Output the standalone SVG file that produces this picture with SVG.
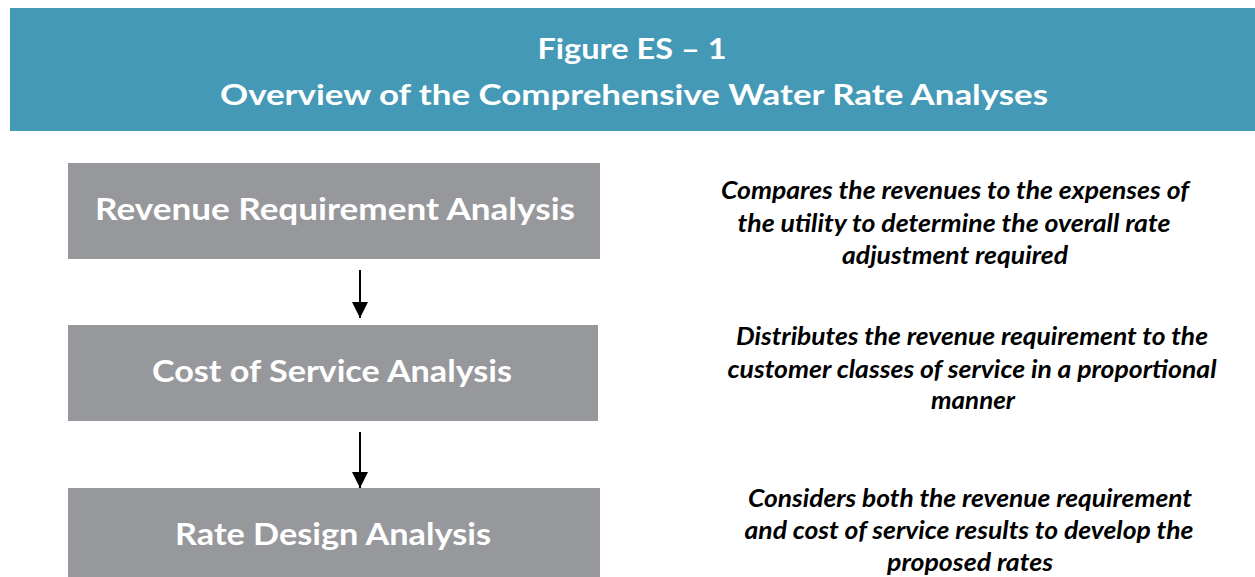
<svg xmlns="http://www.w3.org/2000/svg" width="1255" height="577" viewBox="0 0 1255 577">
<style>
.hdr{fill:#4499b6}
.box{fill:#96989b}
.title{font-family:Lato,"Open Sans","Liberation Sans",sans-serif;font-weight:bold;font-size:29px;fill:#ffffff;text-anchor:middle}
.btxt{font-family:Lato,"Open Sans","Liberation Sans",sans-serif;font-weight:bold;font-size:30px;fill:#ffffff;text-anchor:middle}
.desc{font-family:Lato,"Open Sans","Liberation Sans",sans-serif;font-weight:bold;font-style:italic;font-size:24px;fill:#000000;text-anchor:middle}
.conn{stroke:#000000;stroke-width:2;fill:none}
</style>
<defs>
<marker id="ah" markerUnits="userSpaceOnUse" markerWidth="16" markerHeight="16" refX="16" refY="8" orient="auto">
<path d="M0,0 L16,8 L0,16 Z" fill="#000000"/>
</marker>
</defs>
<rect width="1255" height="577" fill="#ffffff"/>
<g id="header">
<rect class="hdr" x="10" y="8" width="1245" height="123"/>
<text class="title" x="632" y="59" textLength="189" lengthAdjust="spacingAndGlyphs">Figure ES – 1</text>
<text class="title" x="634" y="105" textLength="828" lengthAdjust="spacingAndGlyphs">Overview of the Comprehensive Water Rate Analyses</text>
</g>
<g id="connectors">
<line class="conn" x1="360" y1="270" x2="360" y2="318" marker-end="url(#ah)"/>
<line class="conn" x1="360" y1="432" x2="360" y2="488" marker-end="url(#ah)"/>
</g>
<g id="node-revenue">
<rect class="box" x="68" y="163" width="532" height="96"/>
<text class="btxt" x="335" y="220" textLength="480" lengthAdjust="spacingAndGlyphs">Revenue Requirement Analysis</text>
</g>
<g id="node-cost">
<rect class="box" x="68" y="325" width="530" height="96"/>
<text class="btxt" x="332" y="382" textLength="360" lengthAdjust="spacingAndGlyphs">Cost of Service Analysis</text>
</g>
<g id="node-rate">
<rect class="box" x="68" y="488" width="532" height="89"/>
<text class="btxt" x="333" y="545" textLength="316" lengthAdjust="spacingAndGlyphs">Rate Design Analysis</text>
</g>
<g id="desc-revenue">
<text class="desc" x="955" y="199" textLength="468" lengthAdjust="spacingAndGlyphs">Compares the revenues to the expenses of</text>
<text class="desc" x="954" y="232" textLength="433" lengthAdjust="spacingAndGlyphs">the utility to determine the overall rate</text>
<text class="desc" x="955" y="264" textLength="226" lengthAdjust="spacingAndGlyphs">adjustment required</text>
</g>
<g id="desc-cost">
<text class="desc" x="972" y="345" textLength="472" lengthAdjust="spacingAndGlyphs">Distributes the revenue requirement to the</text>
<text class="desc" x="972" y="378" textLength="489" lengthAdjust="spacingAndGlyphs">customer classes of service in a proportional</text>
<text class="desc" x="973" y="409" textLength="84" lengthAdjust="spacingAndGlyphs">manner</text>
</g>
<g id="desc-rate">
<text class="desc" x="970" y="507" textLength="444" lengthAdjust="spacingAndGlyphs">Considers both the revenue requirement</text>
<text class="desc" x="969" y="539" textLength="449" lengthAdjust="spacingAndGlyphs">and cost of service results to develop the</text>
<text class="desc" x="970" y="571" textLength="166" lengthAdjust="spacingAndGlyphs">proposed rates</text>
</g>
</svg>
